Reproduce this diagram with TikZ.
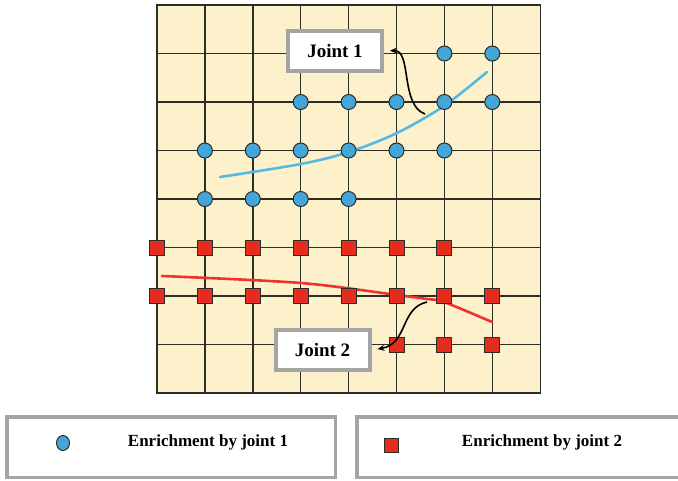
\documentclass[tikz,border=0pt]{standalone}
\usepackage{fontspec}
\setmainfont{Liberation Serif}
\usetikzlibrary{arrows.meta,shapes.geometric}
\definecolor{gridbg}{RGB}{253,241,204}
\definecolor{gridln}{RGB}{45,45,40}
\definecolor{dotblue}{RGB}{70,165,215}
\definecolor{curveblue}{RGB}{85,185,225}
\definecolor{sqred}{RGB}{228,45,30}
\definecolor{curvered}{RGB}{240,50,45}
\definecolor{boxgray}{RGB}{165,165,165}
\begin{document}
\begin{tikzpicture}[x=1pt,y=-1pt,
  dot/.style={circle,draw=gridln,fill=dotblue,line width=1pt,minimum size=15pt,inner sep=0pt},
  sq/.style={rectangle,draw=gridln,fill=sqred,line width=1pt,minimum size=15pt,inner sep=0pt},
  jointbox/.style={draw=boxgray,line width=4pt,fill=white,minimum width=94pt,minimum height=40pt,inner sep=0pt,font=\fontsize{19}{22}\selectfont\bfseries},
  legbox/.style={draw=boxgray,line width=3.5pt,fill=white,minimum height=60.5pt,inner sep=0pt},
  legtext/.style={font=\fontsize{17}{20}\selectfont\bfseries,inner sep=0pt},
  ptr/.style={-{Stealth[length=7pt,width=6pt]},line width=1.6pt,black},
  gridline/.style={draw=gridln,line width=1.4pt}
]
\useasboundingbox (0,0) rectangle (678,480);
\clip (0,0) rectangle (678,480);
\fill[white] (0,0) rectangle (678,480);
% grid
\fill[gridbg] (157,5) rectangle (540.2,393);
\foreach \i in {1,...,7}{
  \draw[gridline] ({157+47.9*\i},5) -- ({157+47.9*\i},393);
  \draw[gridline] (157,{5+48.5*\i}) -- (540.2,{5+48.5*\i});
}
\draw[gridline] (157,5) rectangle (540.2,393);
% crack curves
\draw[curveblue,line width=2.6pt,line cap=round] plot[smooth] coordinates {(220,177) (301,164) (349,152) (397,133) (444,106) (487,72)};
\draw[curvered,line width=2.6pt,line cap=round] plot[smooth] coordinates {(162,276) (301,283) (397,295) (427,299) (444,302) (492,322)};
% blue dots
\foreach \r/\c in {1/6,1/7,2/3,2/4,2/5,2/6,2/7,3/1,3/2,3/3,3/4,3/5,3/6,4/1,4/2,4/3,4/4}{
  \node[dot] (b-\r-\c) at ({157+47.9*\c},{5+48.5*\r}) {};
}
% red squares
\foreach \r/\c in {5/0,5/1,5/2,5/3,5/4,5/5,5/6,6/0,6/1,6/2,6/3,6/4,6/5,6/6,6/7,7/5,7/6,7/7}{
  \node[sq] (s-\r-\c) at ({157+47.9*\c},{5+48.5*\r}) {};
}
% joint labels
\node[jointbox] (j1) at (335,51) {Joint 1};
\node[jointbox] (j2) at (322.5,350) {Joint 2};
\coordinate (a1) at (425,114);
\coordinate (a2) at (427,302);
\draw[ptr,shorten >=6pt] (a1) .. controls (400,105) and (412,50) .. (j1.east);
\draw[ptr,shorten >=6pt] (a2) .. controls (400,308) and (408,344) .. (j2.east);
% legend
\node[legbox,minimum width=328.5pt] (leg1) at (171,447) {};
\node[legbox,minimum width=340pt] (leg2) at (527,447) {};
\node[dot,ellipse,minimum width=13pt,minimum height=15pt] (ld) at (63,443) {};
\node[legtext] (lt1) at (208,442) {Enrichment by joint 1};
\node[sq,minimum width=14pt,minimum height=14pt] (ls) at (391,445) {};
\node[legtext] (lt2) at (542,442) {Enrichment by joint 2};
\end{tikzpicture}
\end{document}
